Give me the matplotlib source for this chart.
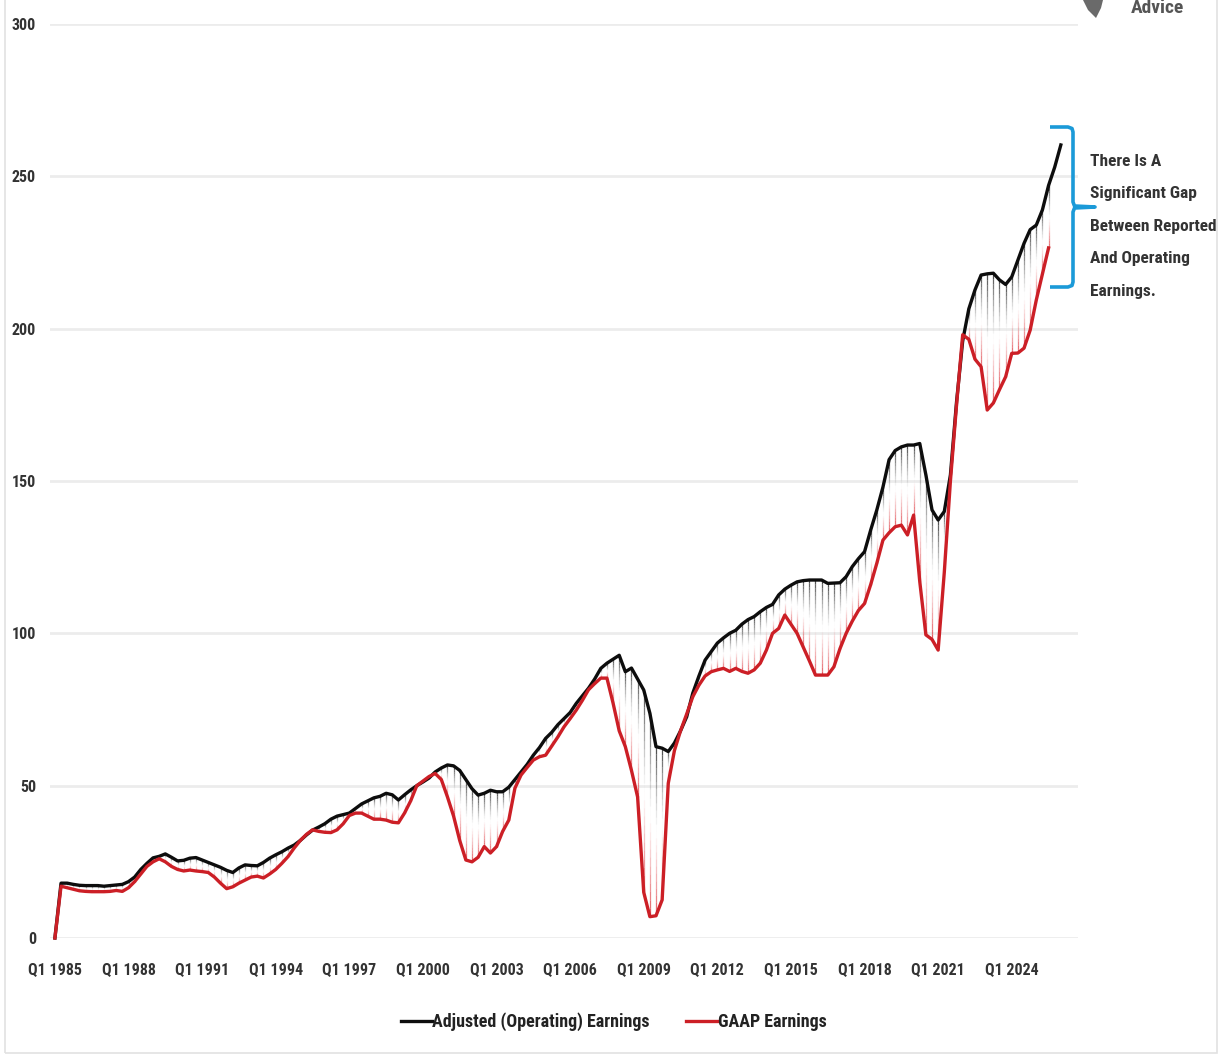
# %% 1.0 Libraries and data

import numpy as np
import pandas as pd
import matplotlib.pyplot as plt
from matplotlib.collections import LineCollection
from matplotlib.lines import Line2D

# Quarterly trailing 12-month earnings per share, Q1 1985 onward
quarters = pd.period_range('1985Q1', '2026Q1', freq='Q')

operating_eps = [
    0.0, 18.0, 18.0, 17.6, 17.3, 17.2, 17.2, 17.2,            # 1985-1986
    17.0, 17.2, 17.4, 17.6, 18.5, 20.0, 22.5, 24.5,           # 1987-1988
    26.3, 26.8, 27.6, 26.5, 25.3, 25.5, 26.2, 26.4,           # 1989-1990
    25.6, 24.8, 24.0, 23.2, 22.2, 21.5, 23.0, 24.0,           # 1991-1992
    23.8, 23.7, 24.8, 26.2, 27.3, 28.3, 29.5, 30.5,           # 1993-1994
    32.0, 33.8, 35.4, 36.4, 37.5, 39.0, 40.0, 40.5,           # 1995-1996
    41.0, 42.5, 44.0, 45.0, 46.0, 46.5, 47.5, 47.0,           # 1997-1998
    45.3, 47.0, 48.6, 50.0, 51.2, 52.5, 54.5, 55.8,           # 1999-2000
    56.8, 56.5, 55.0, 52.0, 49.0, 46.9, 47.5, 48.5,           # 2001-2002
    48.0, 48.0, 49.5, 52.0, 54.5, 57.0, 60.0, 62.5,           # 2003-2004
    65.5, 67.5, 70.0, 72.0, 74.0, 77.0, 79.5, 82.0,           # 2005-2006
    85.0, 88.5, 90.2, 91.5, 92.8, 87.4, 88.6, 85.0,           # 2007-2008
    81.4, 73.8, 62.8, 62.3, 61.2, 64.0, 68.0, 72.6,           # 2009-2010
    80.4, 86.0, 91.2, 94.0, 96.8, 98.5, 100.0, 101.0,         # 2011-2012
    103.0, 104.5, 105.5, 107.1, 108.5, 109.5, 112.6, 114.5,   # 2013-2014
    115.8, 116.9, 117.3, 117.5, 117.5, 117.5, 116.4, 116.5,   # 2015-2016
    116.6, 118.6, 121.9, 124.5, 126.8, 133.9, 140.5, 148.0,   # 2017-2018
    157.0, 160.0, 161.2, 161.8, 161.8, 162.3, 152.0, 140.5,   # 2019-2020
    137.2, 140.0, 152.0, 176.0, 196.0, 206.5, 212.7, 217.6,   # 2021-2022
    218.0, 218.2, 216.0, 214.5, 217.0, 222.5, 228.0, 232.5,   # 2023-2024
    234.0, 239.0, 247.0, 253.0, 260.3,                        # 2025-2026
]

gaap_eps = [
    0.0, 17.0, 16.5, 16.0, 15.5, 15.3, 15.2, 15.2,
    15.2, 15.3, 15.6, 15.3, 16.5, 18.5, 21.0, 23.5,
    25.0, 26.0, 25.0, 23.5, 22.5, 22.0, 22.3, 22.0,
    21.8, 21.5, 20.0, 18.0, 16.2, 16.8, 18.0, 19.0,
    20.0, 20.3, 19.7, 21.0, 22.5, 24.5, 26.7, 29.5,
    32.0, 34.0, 35.5, 35.0, 34.7, 34.6, 35.5, 37.5,
    40.2, 41.0, 41.0, 40.0, 39.0, 39.0, 38.7, 38.0,
    37.8, 41.0, 45.0, 50.0, 51.5, 53.0, 54.0, 52.0,
    46.3, 40.0, 32.0, 25.6, 25.0, 26.5, 30.0, 27.9,
    30.0, 35.0, 38.7, 49.2, 53.5, 56.0, 58.4, 59.5,
    60.0, 63.0, 66.0, 69.3, 72.0, 74.8, 78.0, 81.5,
    83.5, 85.3, 85.3, 77.1, 68.0, 62.8, 55.0, 46.3,
    15.0, 7.0, 7.3, 12.5, 50.8, 61.5, 68.0, 73.5,
    79.2, 83.0, 86.0, 87.4, 88.0, 88.5, 87.5, 88.5,
    87.5, 86.9, 88.0, 90.2, 94.5, 100.0, 101.6, 106.0,
    103.0, 100.0, 95.5, 91.0, 86.3, 86.3, 86.3, 89.0,
    95.0, 100.0, 104.0, 107.5, 109.8, 116.0, 123.0, 130.6,
    133.0, 135.0, 135.5, 132.3, 138.8, 117.0, 99.5, 98.0,
    94.5, 120.0, 150.0, 175.0, 198.0, 196.5, 190.0, 187.5,
    173.3, 175.6, 180.0, 184.2, 191.9, 192.0, 193.6, 199.5,
    209.4, 218.0, 226.5,
]

tick_step = 12
tick_labels = [f'Q{q.quarter} {q.year}' for q in quarters[::tick_step]]

note_lines = ['There Is A', 'Significant Gap', 'Between Reported',
              'And Operating', 'Earnings.']

black = '#0d0d0d'
red = '#cc1f26'
blue = '#1b9ad8'
txt = '#333333'
font = ['Roboto Condensed', 'Liberation Sans Narrow', 'Liberation Sans', 'DejaVu Sans']

plt.rcParams['font.family'] = font
plt.rcParams['font.weight'] = 'bold'

# %% 2.0 Figure and axes

W, H = 1220, 1055
fig = plt.figure(figsize=(W / 100, H / 100), dpi=100)
ax = fig.add_axes([50 / W, 1 - 938 / H, 1028 / W, 914 / H])

x_op = np.arange(len(operating_eps))
x_gaap = np.arange(len(gaap_eps))

# Drop lines between the two series, fading black -> white -> red
n_sub = 24
segs, cols = [], []
for i in x_gaap:
    top, bot = operating_eps[i], gaap_eps[i]
    ys = np.linspace(top, bot, n_sub + 1)
    for k in range(n_sub):
        t = (k + 0.5) / n_sub
        segs.append([(i, ys[k]), (i, ys[k + 1])])
        if t < 0.5:
            cols.append((0.05, 0.05, 0.05, 0.75 * (1 - 2 * t) ** 1.3))
        else:
            cols.append((0.85, 0.12, 0.15, 0.75 * (2 * t - 1) ** 1.3))
ax.add_collection(LineCollection(segs, colors=cols, linewidths=0.9, zorder=2))

ax.plot(x_op, operating_eps, color=black, lw=2.4, zorder=3, clip_on=False,
        solid_joinstyle='round', label='Adjusted (Operating) Earnings')
ax.plot(x_gaap, gaap_eps, color=red, lw=2.4, zorder=4, clip_on=False,
        solid_joinstyle='round', label='GAAP Earnings')

ax.set_xlim(-0.8, 166.8)
ax.set_ylim(0, 300)
ax.set_yticks(np.arange(0, 301, 50))
ax.set_xticks(np.arange(0, len(quarters), tick_step))
ax.set_xticklabels(tick_labels)
ax.grid(axis='y', color='#ececec', lw=2)
ax.set_axisbelow(True)
for s in ax.spines.values():
    s.set_visible(False)
ax.tick_params(axis='both', length=0, labelcolor=txt, labelsize=11.5)
ax.tick_params(axis='y', pad=10)
ax.tick_params(axis='x', pad=17)

# %% 3.0 Bracket and note on the latest gap

# bracket drawn in figure pixels (y measured from the top)
bx0, bx1, btip = 1050, 1073, 1095
by_top, by_bot, by_mid = 127, 287, 207
r = 5
bracket_x = [bx0, bx1 - r, bx1 - 1, bx1, bx1, bx1 + 1.5, btip, bx1 + 1.5, bx1, bx1, bx1 - 1, bx1 - r, bx0]
bracket_y = [by_top, by_top, by_top + 1.5, by_top + r, by_mid - r, by_mid - 1, by_mid,
             by_mid + 1, by_mid + r, by_bot - r, by_bot - 1.5, by_bot, by_bot]
fig.add_artist(Line2D(np.array(bracket_x) / W, 1 - np.array(bracket_y) / H,
                      transform=fig.transFigure, color=blue, lw=2.6,
                      solid_joinstyle='round', solid_capstyle='butt', zorder=5))

for j, line in enumerate(note_lines):
    fig.text(1090 / W, 1 - (161 + 32.5 * j) / H, line, ha='left', va='center',
             fontsize=12.5, color=txt, fontweight='bold')

# logo corner, cut by the top edge
logo = plt.Polygon([(1083 / W, 1.0), (1103 / W, 1.0), (1101 / W, 1 - 8 / H),
                    (1096 / W, 1 - 18 / H), (1088 / W, 1 - 10 / H)],
                   closed=True, transform=fig.transFigure, fc='#6a6a6a', ec='none')
fig.add_artist(logo)
fig.text(1131 / W, 1 - 8 / H, 'Advice', ha='left', va='center',
         fontsize=14, color='#555555', fontweight='bold')

# light frame around the figure
fig.add_artist(plt.Rectangle((5 / W, 0.002), 1212 / W, 1.1, transform=fig.transFigure,
                             fill=False, ec='#e2e2e2', lw=1.2))

fig.legend(loc='center', bbox_to_anchor=(0.503, 1 - 1022 / H), ncol=2, frameon=False,
           handlelength=1.7, handletextpad=0.05, columnspacing=2.0,
           prop={'size': 13, 'weight': 'bold', 'family': font}, labelcolor='#222222')

fig.savefig('out.png', dpi=100, facecolor='white')
